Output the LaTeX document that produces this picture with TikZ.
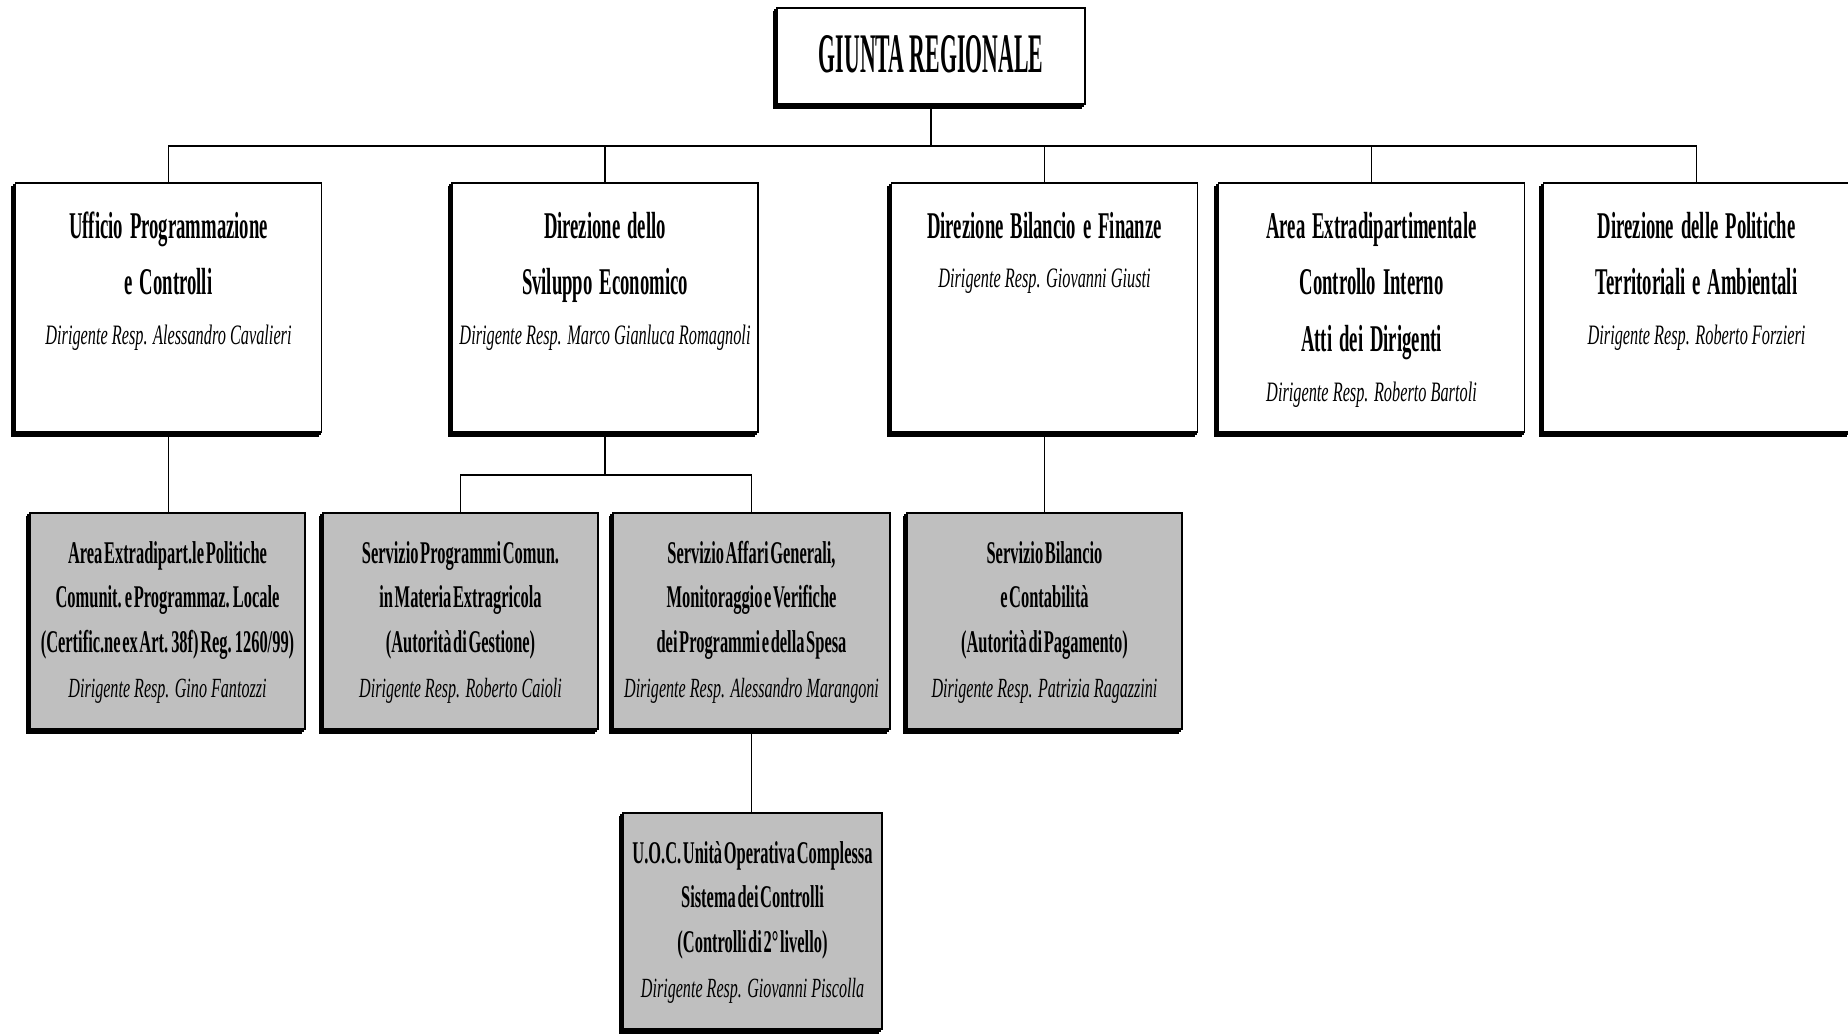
\documentclass[tikz,border=0pt]{standalone}
\usepackage{fontspec}
\setmainfont{Liberation Serif}
\newfontfamily\giuntafont[FakeStretch=0.39]{Liberation Serif}
\newfontfamily\headfont[FakeStretch=0.495,WordSpace=1.5]{Liberation Serif}
\newfontfamily\servfont[FakeStretch=0.52,WordSpace=0.4]{Liberation Serif}
\newfontfamily\respfont[FakeStretch=0.58]{Liberation Serif}
\usetikzlibrary{shadows}

\colorlet{servgray}{black!25}
\newlength\pxl
\setlength\pxl{0.02cm}

\newcommand{\boxtxt}[4]{\parbox[c][#2\pxl][t]{#1\pxl}{\centering\rule{0pt}{#3\pxl}#4}}
\newcommand{\dirtxt}[2]{\boxtxt{306}{249}{55}{%
  \headfont\bfseries\fontsize{21.5}{32.4}\selectfont #1\\[-4.4pt]
  \respfont\mdseries\itshape\fontsize{16}{32.4}\selectfont Dirigente Resp. #2}}
\newcommand{\servtxt}[3]{\boxtxt{#1}{216}{50}{%
  \servfont\bfseries\fontsize{18}{25.6}\selectfont #2\\
  \respfont\mdseries\itshape\fontsize{15.8}{25.6}\selectfont Dirigente Resp. #3}}

\begin{document}
\begin{tikzpicture}[x=0.02cm, y=-0.02cm,
    ufficio/.style={draw, line width=1pt, fill=white, inner sep=0pt,
      double copy shadow={shadow xshift=-1pt, shadow yshift=-1.2pt}},
    servizio/.style={ufficio, fill=servgray},
    link/.style={line width=1.1pt}]
  \useasboundingbox (0,0) rectangle (1848,1035);

  \node[ufficio] (giunta) at (931,56)
    {\boxtxt{308}{96}{64}{\giuntafont\bfseries\fontsize{31.8}{36}\selectfont GIUNTA REGIONALE}};

  \node[ufficio] (uff)  at (168.5,307.5) {\dirtxt{Ufficio Programmazione\\ e Controlli}{Alessandro Cavalieri}};
  \node[ufficio] (svil) at (605,307.5)   {\dirtxt{Direzione dello\\ Sviluppo Economico}{Marco Gianluca Romagnoli}};
  \node[ufficio] (bil)  at (1044.5,307.5){\dirtxt{Direzione Bilancio e Finanze}{Giovanni Giusti}};
  \node[ufficio] (area) at (1371.5,307.5){\dirtxt{Area Extradipartimentale\\ Controllo Interno\\ Atti dei Dirigenti}{Roberto Bartoli}};
  \node[ufficio] (pol)  at (1696.5,307.5){\dirtxt{Direzione delle Politiche\\ Territoriali e Ambientali}{Roberto Forzieri}};

  \node[servizio] (comunit) at (167.5,621)
    {\servtxt{275}{Area Extradipart.le Politiche\\ Comunit. e Programmaz. Locale\\ (Certific.ne ex Art. 38f) Reg. 1260/99)}{Gino Fantozzi}};
  \node[servizio] (progr) at (460.5,621)
    {\servtxt{275}{Servizio Programmi Comun.\\ in Materia Extragricola\\ (Autorità di Gestione)}{Roberto Caioli}};
  \node[servizio] (affari) at (751.5,621)
    {\servtxt{277}{Servizio Affari Generali,\\ Monitoraggio e Verifiche\\ dei Programmi e della Spesa}{Alessandro Marangoni}};
  \node[servizio] (bilserv) at (1044.5,621)
    {\servtxt{275}{Servizio Bilancio\\ e Contabilità\\ (Autorità di Pagamento)}{Patrizia Ragazzini}};
  \node[servizio] (uoc) at (752.5,921)
    {\servtxt{259}{U.O.C. Unità Operativa Complessa\\ Sistema dei Controlli\\ (Controlli di 2° livello)}{Giovanni Piscolla}};

  \draw[link] (giunta.south) -- ++(0,41) coordinate (bus);
  \draw[link] (uff.north) |- (bus) -| (pol.north);
  \foreach \n in {svil,bil,area}{%
    \draw[link] (\n.north) -- (\n.north |- bus);}
  \draw[link] (uff.south) -- (uff.south |- comunit.north);
  \draw[link] (svil.south) -- ++(0,42) coordinate (fork);
  \draw[link] (progr.north) |- (fork) -| (affari.north);
  \draw[link] (bil.south) -- (bilserv.north);
  \draw[link] (affari.south) -- (affari.south |- uoc.north);
\end{tikzpicture}
\end{document}
